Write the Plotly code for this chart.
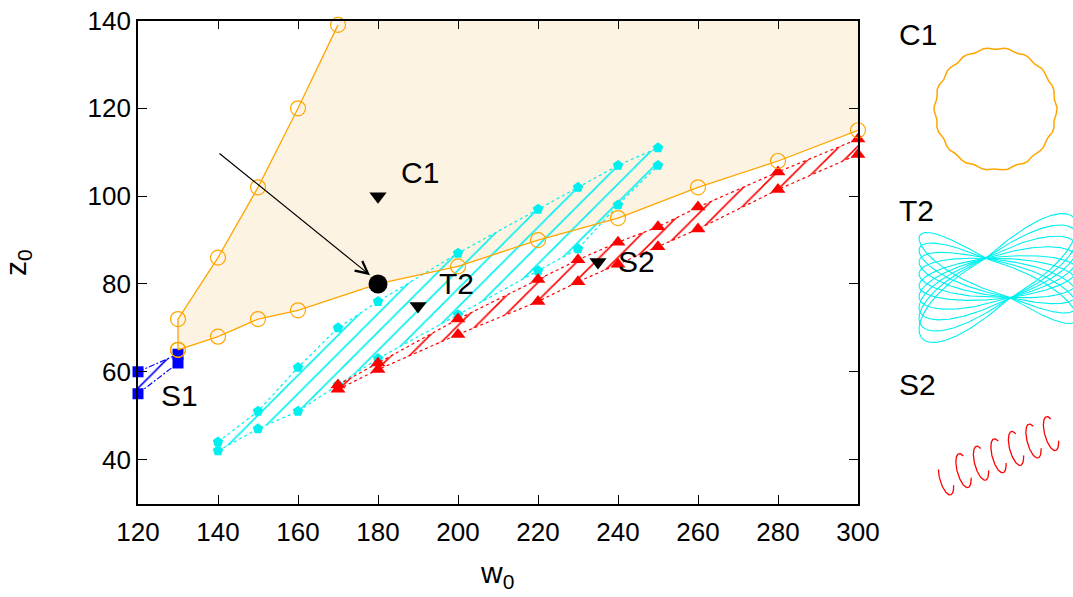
import numpy as np
import plotly.graph_objects as go

# ---------------- data ----------------
# C1 region boundary (orange, open circles)
c1_upper_w = [130, 130, 140, 150, 160, 170]
c1_upper_z = [65, 72, 86, 102, 120, 139]
c1_lower_w = [130, 140, 150, 160, 180, 200, 220, 240, 260, 280, 300]
c1_lower_z = [65, 68, 72, 74, 80, 84, 90, 95, 102, 108, 115]

# T2 region (cyan pentagons)
t2_w = [140, 150, 160, 170, 180, 200, 220, 230, 240, 250]
t2_upper_z = [44, 51, 61, 70, 76, 87, 97, 102, 107, 111]
t2_lower_z = [42, 47, 51, 57, 63, 73, 83, 88, 98, 107]

# S2 region (red triangles)
s2_w = [170, 180, 200, 220, 230, 240, 250, 260, 280, 300]
s2_upper_z = [57, 62, 72, 81, 85.5, 89.5, 93, 97.5, 105.5, 113]
s2_lower_z = [56, 60.5, 68.5, 76, 80.5, 84.5, 88.5, 92.5, 101.5, 109.5]

# S1 region (blue squares)
s1_w = [120, 130]
s1_upper_z = [60, 64]
s1_lower_z = [55, 62]

# representative points (black down triangles) and the marked point (black dot)
rep_w = [180, 190, 235]
rep_z = [100, 75, 85]
dot_w = [180]
dot_z = [80]

# arrow (tail -> head) in data units
arrow_tail = (140, 110)
arrow_head = (178, 82)

# axis settings
w_range = [120, 300]
z_range = [30, 140]
w_ticks = [120, 140, 160, 180, 200, 220, 240, 260, 280, 300]
z_ticks = [40, 60, 80, 100, 120, 140]

FONT = "Liberation Sans, Arial, sans-serif"
ORANGE = "#FFA500"
CYAN = "#00F0F0"
RED = "#FF0000"
BLUE = "#0000FF"

W, H = 1073, 597
xdom = [138 / W, 858 / W]
ydom = [1 - 503.5 / H, 1 - 20.5 / H]

fig = go.Figure()

# --- C1 filled region ---
slope_top = (c1_upper_z[-1] - c1_upper_z[-2]) / (c1_upper_w[-1] - c1_upper_w[-2])
w_top = c1_upper_w[-1] + (z_range[1] - c1_upper_z[-1]) / slope_top
fill_w = list(c1_upper_w) + [w_top, w_range[1]] + list(reversed(c1_lower_w))
fill_z = list(c1_upper_z) + [z_range[1], z_range[1]] + list(reversed(c1_lower_z))
fig.add_trace(go.Scatter(x=fill_w, y=fill_z, mode="none", fill="toself",
                         fillcolor="#FDF3E2", hoverinfo="skip"))


def hatched_region(w, up, lo, color, symbol, msize, dash):
    poly_w = list(w) + list(reversed(w))
    poly_z = list(up) + list(reversed(lo))
    fig.add_trace(go.Scatter(
        x=poly_w, y=poly_z, mode="none", fill="toself",
        fillcolor="rgba(0,0,0,0)",
        fillpattern=dict(shape="/", fgcolor=color, bgcolor="rgba(0,0,0,0)",
                         fgopacity=1, size=13, solidity=0.12, fillmode="replace"),
        hoverinfo="skip"))
    for zz in (up, lo):
        fig.add_trace(go.Scatter(
            x=w, y=zz, mode="lines+markers", cliponaxis=False,
            line=dict(color=color, width=1.2, dash=dash),
            marker=dict(symbol=symbol, size=msize, color=color)))


hatched_region(t2_w, t2_upper_z, t2_lower_z, CYAN, "pentagon", 11, "3px,3px")
hatched_region(s2_w, s2_upper_z, s2_lower_z, RED, "triangle-up", 13, "3px,3px")
hatched_region(s1_w, s1_upper_z, s1_lower_z, BLUE, "square", 11, "6px,2px,2px,2px")

# --- C1 boundary lines ---
for ww, zz in ((c1_upper_w, c1_upper_z), (c1_lower_w, c1_lower_z)):
    fig.add_trace(go.Scatter(
        x=ww, y=zz, mode="lines+markers", cliponaxis=False,
        line=dict(color=ORANGE, width=1.3),
        marker=dict(symbol="circle-open", size=15, color=ORANGE,
                    line=dict(width=1.2, color=ORANGE))))

# representative points
fig.add_trace(go.Scatter(x=rep_w, y=rep_z, mode="markers",
                         marker=dict(symbol="triangle-down", size=15, color="black")))
fig.add_trace(go.Scatter(x=dot_w, y=dot_z, mode="markers",
                         marker=dict(symbol="circle", size=19, color="black")))

# ---------------- insets (schematic trajectories, pixel frame) ----------------
t = np.linspace(0, 2 * np.pi, 1500)
cx, cy, R = 995.5, 109.0, 60.5
c1x = cx + R * np.cos(t) + 1.0 * np.cos(19 * t)
c1y = cy + R * np.sin(t) + 1.0 * np.sin(19 * t)
fig.add_trace(go.Scatter(x=c1x, y=c1y, mode="lines", xaxis="x2", yaxis="y2",
                         line=dict(color=ORANGE, width=1.5), hoverinfo="skip"))

tt = np.linspace(0, 2 * np.pi, 600)
for h in np.linspace(-46, 46, 9):
    tx = 998 + 78 * np.cos(tt) + 12.5 * np.sin(tt)
    ty = (278 + h * np.cos(tt) - 11 * np.cos(tt) + 19.5 * np.sin(tt)
          + 6 * np.sin(2 * tt) * np.sign(np.cos(tt)) * (abs(h) / 46))
    fig.add_trace(go.Scatter(x=tx, y=ty, mode="lines", xaxis="x2", yaxis="y2",
                             line=dict(color=CYAN, width=1.1), hoverinfo="skip"))

for j in range(7):
    start = 150 if j == 0 else 60
    th = np.linspace(np.radians(start), np.radians(335), 120)
    hx = 946 + 17.5 * j
    hy = 478 - 7.4 * j
    sx = hx + 6.5 * np.cos(th) - 4 * np.sin(th)
    sy = hy - 17 * np.sin(th)
    fig.add_trace(go.Scatter(x=sx, y=sy, mode="lines", xaxis="x2", yaxis="y2",
                             line=dict(color=RED, width=1.3), hoverinfo="skip"))

# ---------------- annotations ----------------
ann = []
label_font = dict(family=FONT, size=30, color="black")
for txt, xw, yz in (("C1", 185.2, 105.3), ("T2", 194.8, 80.0),
                    ("S2", 239.6, 85.2), ("S1", 125.3, 54.7)):
    ann.append(dict(x=xw, y=yz, xref="x", yref="y", text=txt, showarrow=False,
                    xanchor="left", yanchor="middle", font=label_font))
for txt, yp in (("C1", 34), ("T2", 210), ("S2", 384)):
    ann.append(dict(x=897, y=yp, xref="x2", yref="y2", text=txt, showarrow=False,
                    xanchor="left", yanchor="middle", font=label_font))
ann.append(dict(x=arrow_head[0], y=arrow_head[1], ax=arrow_tail[0], ay=arrow_tail[1],
                xref="x", yref="y", axref="x", ayref="y", text="", showarrow=True,
                arrowhead=5, arrowsize=2.0, arrowwidth=1.2, arrowcolor="black"))
ann.append(dict(x=497, y=574, xref="x2", yref="y2", text="w<sub>0</sub>", showarrow=False,
                xanchor="center", yanchor="middle", font=label_font))
ann.append(dict(x=17, y=263, xref="x2", yref="y2", text="z<sub>0</sub>", showarrow=False,
                textangle=-90, xanchor="center", yanchor="middle", font=label_font))

axis_common = dict(showgrid=False, zeroline=False, showline=True, linecolor="black",
                   linewidth=1.6, mirror="ticks", ticks="inside", ticklen=9,
                   tickwidth=1.3, tickcolor="black", automargin=False,
                   tickfont=dict(family=FONT, size=26, color="black"))

fig.update_layout(
    width=W, height=H,
    margin=dict(l=0, r=0, t=0, b=0, pad=0, autoexpand=False),
    paper_bgcolor="white", plot_bgcolor="rgba(0,0,0,0)",
    showlegend=False,
    xaxis=dict(domain=xdom, range=w_range, tickvals=w_ticks, ticklabelstandoff=4,
               **axis_common),
    yaxis=dict(domain=ydom, range=z_range, tickvals=z_ticks, ticklabelstandoff=0,
               **axis_common),
    xaxis2=dict(domain=[0, 1], range=[0, W], visible=False, anchor="y2", automargin=False),
    yaxis2=dict(domain=[0, 1], range=[H, 0], visible=False, anchor="x2", automargin=False),
    annotations=ann,
)

fig.write_html("out.html", config={"displayModeBar": False},
               post_script="document.body.style.margin='0';document.body.style.padding='0';"
                           "document.documentElement.style.overflow='hidden';")
